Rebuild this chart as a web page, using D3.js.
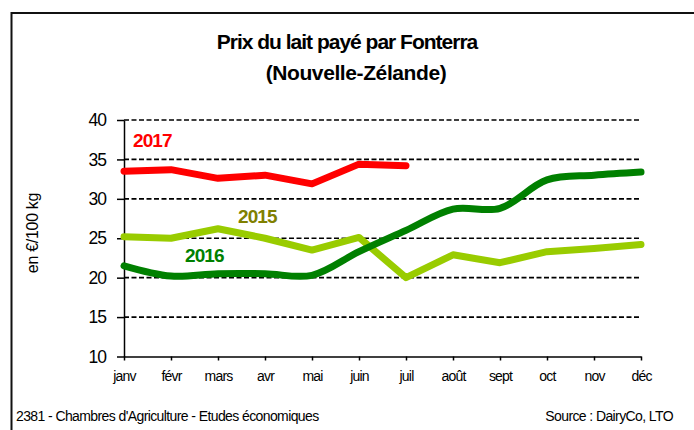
<!DOCTYPE html>
<html>
<head>
<meta charset="utf-8">
<script src="https://cdn.jsdelivr.net/npm/d3@7"></script>
<style>
  body { margin: 0; background: #fff; }
  svg text { font-family: "Liberation Sans", Arial, sans-serif; }
</style>
</head>
<body>
<script>
// data
var months = ["janv", "févr", "mars", "avr", "mai", "juin", "juil", "août", "sept", "oct", "nov", "déc"];
var prix2015 = [25.2, 25.0, 26.2, 25.0, 23.5, 25.1, 20.0, 22.9, 21.9, 23.3, 23.7, 24.2];
var prix2016 = [21.5, 20.2, 20.5, 20.5, 20.3, 23.3, 26.0, 28.7, 28.8, 32.4, 33.0, 33.4];
var prix2017 = [33.5, 33.7, 32.6, 33.0, 31.9, 34.4, 34.2];
var yTicks = [10, 15, 20, 25, 30, 35, 40];
var gridTicks = [15, 20, 25, 30, 35, 40];

var w = 694;
var h = 430;

var svg = d3.select("body")
  .append("svg")
  .attr("width", w)
  .attr("height", h);

// frame
svg.append("rect")
  .attr("x", 11.5)
  .attr("y", 13)
  .attr("width", 720)
  .attr("height", 440)
  .attr("fill", "none")
  .attr("stroke", "#111")
  .attr("stroke-width", 2);

// title
svg.append("text")
  .attr("x", 347)
  .attr("y", 49)
  .attr("text-anchor", "middle")
  .style("font-size", "21px")
  .style("font-weight", "bold")
  .style("letter-spacing", "-1px")
  .text("Prix du lait payé par Fonterra");
svg.append("text")
  .attr("x", 356)
  .attr("y", 80)
  .attr("text-anchor", "middle")
  .style("font-size", "21px")
  .style("font-weight", "bold")
  .style("letter-spacing", "-0.4px")
  .text("(Nouvelle-Zélande)");

var xScale = d3.scalePoint()
  .domain(months)
  .range([124, 641]);

var yScale = d3.scaleLinear()
  .domain([10, 40])
  .range([356.5, 120]);

// dashed grid
svg.selectAll(".grid")
  .data(gridTicks)
  .enter()
  .append("line")
  .attr("class", "grid")
  .attr("x1", 124)
  .attr("x2", 641)
  .attr("y1", d => yScale(d))
  .attr("y2", d => yScale(d))
  .attr("stroke", "#000")
  .attr("stroke-width", 1.6)
  .attr("stroke-dasharray", "5,2.5");

var yAxis = d3.axisLeft(yScale)
  .tickValues(yTicks)
  .tickSize(7)
  .tickSizeOuter(0)
  .tickPadding(11);

var yAxisGroup = svg.append("g")
  .attr("transform", "translate(124,0)")
  .call(yAxis);
yAxisGroup.selectAll("text")
  .style("font-size", "17.5px")
  .style("letter-spacing", "-1px")
  .attr("fill", "#000");
yAxisGroup.selectAll("line, path").attr("stroke", "#000").attr("stroke-width", 1.5);

var xAxis = d3.axisBottom(xScale)
  .tickSize(4)
  .tickSizeOuter(0)
  .tickPadding(11);

var xAxisGroup = svg.append("g")
  .attr("transform", "translate(0," + yScale(10) + ")")
  .call(xAxis);
xAxisGroup.selectAll("text")
  .style("font-size", "14px")
  .style("letter-spacing", "-0.8px")
  .attr("fill", "#000");
xAxisGroup.selectAll("line, path").attr("stroke", "#000").attr("stroke-width", 1.5);

// y label
svg.append("text")
  .attr("transform", "translate(38,233) rotate(-90)")
  .attr("text-anchor", "middle")
  .style("font-size", "16px")
  .style("letter-spacing", "-0.3px")
  .text("en €/100 kg");

// lines
var lineStraight = d3.line()
  .x((d, i) => xScale(months[i]))
  .y(d => yScale(d));

var lineSmooth = d3.line()
  .x((d, i) => xScale(months[i]))
  .y(d => yScale(d))
  .curve(d3.curveCatmullRom.alpha(0.5));

var series = [
  { values: prix2015, color: "#99cc00", gen: lineStraight },
  { values: prix2016, color: "#008000", gen: lineSmooth },
  { values: prix2017, color: "#ff0000", gen: lineStraight }
];

svg.selectAll(".serie")
  .data(series)
  .enter()
  .append("path")
  .attr("class", "serie")
  .attr("d", d => d.gen(d.values))
  .attr("fill", "none")
  .attr("stroke", d => d.color)
  .attr("stroke-width", 7)
  .attr("stroke-linejoin", "round")
  .attr("stroke-linecap", "round");

// series labels
var labels = [
  { text: "2017", color: "#ff0000", month: "janv", dx: 9, v: 36.6 },
  { text: "2015", color: "#808000", month: "mars", dx: 20, v: 26.95 },
  { text: "2016", color: "#008000", month: "févr", dx: 14, v: 22.0 }
];

svg.selectAll(".lab")
  .data(labels)
  .enter()
  .append("text")
  .attr("class", "lab")
  .attr("x", d => xScale(d.month) + d.dx)
  .attr("y", d => yScale(d.v))
  .attr("fill", d => d.color)
  .style("font-size", "19px")
  .style("font-weight", "bold")
  .style("letter-spacing", "-0.9px")
  .text(d => d.text);

// footer
svg.append("text")
  .attr("x", 16)
  .attr("y", 421)
  .style("font-size", "14px")
  .style("letter-spacing", "-0.6px")
  .text("2381 - Chambres d'Agriculture - Etudes économiques");
svg.append("text")
  .attr("x", 673)
  .attr("y", 421)
  .attr("text-anchor", "end")
  .style("font-size", "14px")
  .style("letter-spacing", "-0.6px")
  .text("Source :  DairyCo, LTO");
</script>
</body>
</html>
